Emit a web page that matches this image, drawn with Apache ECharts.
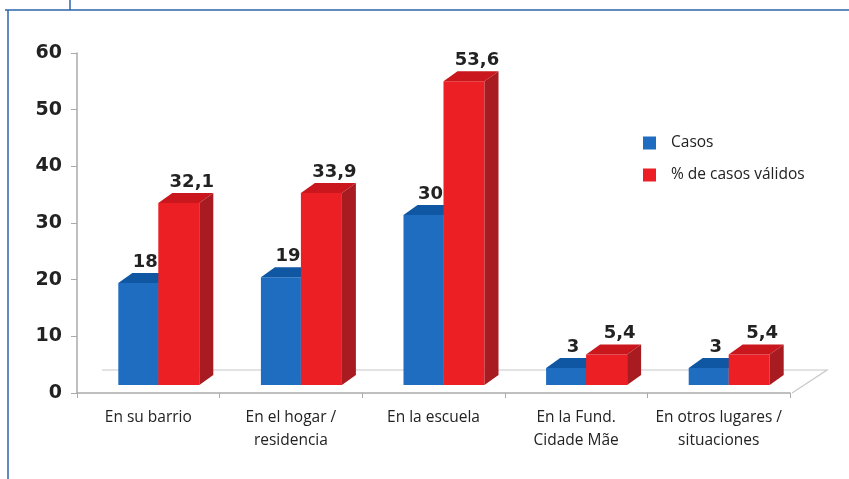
<!DOCTYPE html>
<html>
<head>
<meta charset="utf-8">
<script src="https://cdn.jsdelivr.net/npm/echarts@6/dist/echarts.min.js"></script>
<style>
  html, body { margin: 0; padding: 0; background: #fff; }
  #chart { width: 849px; height: 479px; }
</style>
</head>
<body>
<div id="chart"></div>
<script>
var categories = ['En su barrio', 'En el hogar /\nresidencia', 'En la escuela', 'En la Fund.\nCidade Mãe', 'En otros lugares /\nsituaciones'];
var casos = [18, 19, 30, 3, 3];
var porcentaje = [32.1, 33.9, 53.6, 5.4, 5.4];
var yTicks = [0, 10, 20, 30, 40, 50, 60];

// 3d look
var DX = 14, DY = 10, LIFT = 8;

function fmt(v) { return String(v).replace('.', ','); }

function bar3d(offL, offR, front, top, side, labelShift) {
  return function (params, api) {
    var i = api.value(0), v = api.value(1);
    var base = api.coord([i, 0]);
    var head = api.coord([i, v]);
    var xl = base[0] + offL, xr = base[0] + offR;
    var yb = base[1] - LIFT, yt = head[1] - LIFT;
    return {
      type: 'group',
      children: [
        { type: 'rect', shape: { x: xl, y: yt, width: xr - xl, height: yb - yt }, style: { fill: front } },
        { type: 'polygon', shape: { points: [[xl, yt], [xl + DX, yt - DY], [xr + DX, yt - DY], [xr, yt]] }, style: { fill: top } },
        { type: 'polygon', shape: { points: [[xr, yt], [xr + DX, yt - DY], [xr + DX, yb - DY], [xr, yb]] }, style: { fill: side } },
        { type: 'text', style: { text: fmt(v), x: (xl + xr + DX) / 2 + labelShift, y: yt - DY - 2, align: 'center', verticalAlign: 'bottom',
          font: 'bold 18px "DejaVu Sans", Verdana, sans-serif', fill: '#222' } }
      ]
    };
  };
}

function toData(arr) { return arr.map(function (v, i) { return [i, v]; }); }

var chart = echarts.init(document.getElementById('chart'));
chart.setOption({
  animation: false,
  graphic: [
    { type: 'line', shape: { x1: 5, y1: 10, x2: 849, y2: 10 }, style: { stroke: '#2a64ad', lineWidth: 1.5 } },
    { type: 'line', shape: { x1: 8, y1: 10, x2: 8, y2: 479 }, style: { stroke: '#2a64ad', lineWidth: 1.5 } },
    { type: 'line', shape: { x1: 70, y1: 0, x2: 70, y2: 10 }, style: { stroke: '#2a64ad', lineWidth: 1.5 } }
  ],
  grid: { left: 77, right: 59, top: 53, bottom: 86 },
  legend: {
    orient: 'vertical', left: 638, top: 130, itemWidth: 13, itemHeight: 13, itemGap: 16, icon: 'rect',
    textStyle: { fontFamily: 'Open Sans', fontSize: 15.5, color: '#222', padding: [0, 0, 0, 10] },
    data: ['Casos', '% de casos válidos']
  },
  xAxis: {
    type: 'category', data: categories,
    axisLine: { lineStyle: { color: '#aaa', width: 1.5 } },
    axisTick: { show: true, length: 5, lineStyle: { color: '#aaa' } },
    axisLabel: { interval: 0, fontFamily: 'Open Sans', fontSize: 15.5, color: '#222', lineHeight: 23, margin: 13 }
  },
  yAxis: {
    type: 'value', min: yTicks[0], max: yTicks[yTicks.length - 1], interval: 10,
    axisLine: { show: true, lineStyle: { color: '#aaa', width: 1.5 } },
    axisTick: { show: true, length: 6, lineStyle: { color: '#aaa' } },
    splitLine: { show: false },
    axisLabel: { fontFamily: 'DejaVu Sans', fontWeight: 'bold', fontSize: 19, color: '#222', margin: 15 }
  },
  series: [
    {
      name: 'floor', type: 'custom', data: [[0, 0]], silent: true, z: 1,
      renderItem: function (params, api) {
        var cs = params.coordSys;
        var yb = cs.y + cs.height, xr = cs.x + cs.width + 2;
        return {
          type: 'polyline',
          shape: { points: [[cs.x + 25, yb - 23], [xr + 35, yb - 23], [xr, yb]] },
          style: { stroke: '#c8c8c8', lineWidth: 1.2, fill: null }
        };
      }
    },
    {
      name: 'Casos', type: 'custom', data: toData(casos), z: 3,
      itemStyle: { color: '#1f6cc0' },
      renderItem: bar3d(-30, 10, '#1f6dc0', '#0f57a3', '#124f92', 0)
    },
    {
      name: '% de casos válidos', type: 'custom', data: toData(porcentaje), z: 4,
      itemStyle: { color: '#ec1f25' },
      renderItem: bar3d(10, 51, '#ec1f25', '#c9171d', '#a81b20', 6)
    }
  ]
});
</script>
</body>
</html>
